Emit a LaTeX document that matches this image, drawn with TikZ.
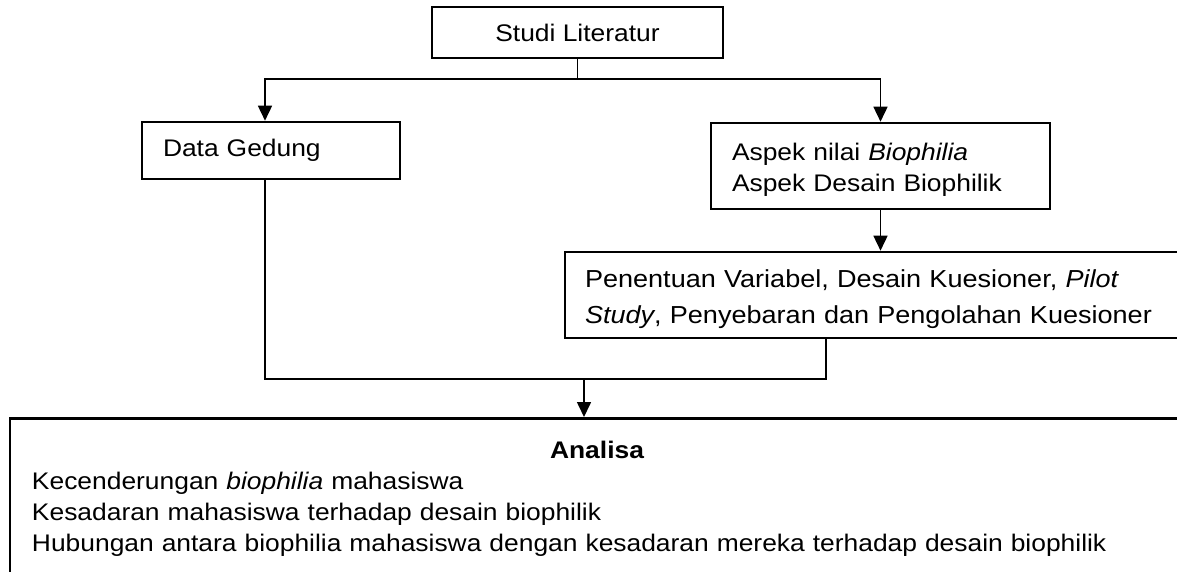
\documentclass[tikz,border=0pt]{standalone}
\usepackage{fontspec}
\setmainfont{Liberation Sans}[FakeStretch=1.1]
\usepackage{tikz}
\usetikzlibrary{arrows.meta, positioning, calc}

\begin{document}
\begin{tikzpicture}[x=1pt, y=-1pt,
    stepbox/.style={draw, line width=2.6pt, rectangle, inner sep=0pt,
                    font=\fontsize{24}{31}\selectfont},
    link/.style={line width=1.6pt},
    arrowlink/.style={link, -{Triangle[length=15pt, width=14pt]}}]
    \useasboundingbox (0,0) rectangle (1177,572);
    \clip (0,0) rectangle (1177,572);

    % boxes
    \node[stepbox, minimum width=291pt, minimum height=51pt] (studi) at (577.5,32.5) {Studi Literatur};
    \node[stepbox, minimum width=258pt, minimum height=57pt, text width=216pt, align=left] (gedung) at (271,150.5) {Data Gedung};
    \node[stepbox, minimum width=339pt, minimum height=86pt, text width=297pt, align=left] (aspek) at (880.5,166)
        {\rule{0pt}{24pt}Aspek nilai \textit{Biophilia}\\Aspek Desain Biophilik};
    \node[stepbox, minimum width=635pt, minimum height=86pt, text width=595pt, align=left,
          font=\fontsize{24.6}{36}\selectfont] (penentuan) at (882.5,295)
        {\rule{0pt}{27pt}Penentuan Variabel, Desain Kuesioner, \textit{Pilot}\\\textit{Study}, Penyebaran dan Pengolahan Kuesioner};
    \node[stepbox, anchor=north, minimum width=1174pt, text width=1130pt, align=left,
          inner ysep=23pt] (analisa) at (597,417)
        {\makebox[\linewidth]{\bfseries Analisa}\\
         Kecenderungan \textit{biophilia} mahasiswa\\
         Kesadaran mahasiswa terhadap desain biophilik\\
         Hubungan antara biophilia mahasiswa dengan kesadaran mereka terhadap desain biophilik\rule[-60pt]{0pt}{0pt}};

    % connectors
    \coordinate (split) at (studi.south |- 0,79);
    \coordinate (merge) at (584,379);
    \draw[link] (studi.south) -- (split);
    \draw[arrowlink] (split) -| ([xshift=-6pt]gedung.north);
    \draw[arrowlink] (split) -| (aspek.north);
    \draw[arrowlink] (aspek.south) -- (aspek.south |- penentuan.north);
    \draw[link] ([xshift=-6pt]gedung.south) |- ([xshift=-56.5pt]penentuan.south |- merge) -- ([xshift=-56.5pt]penentuan.south);
    \draw[arrowlink] (merge) -- (merge |- analisa.north);
\end{tikzpicture}
\end{document}
